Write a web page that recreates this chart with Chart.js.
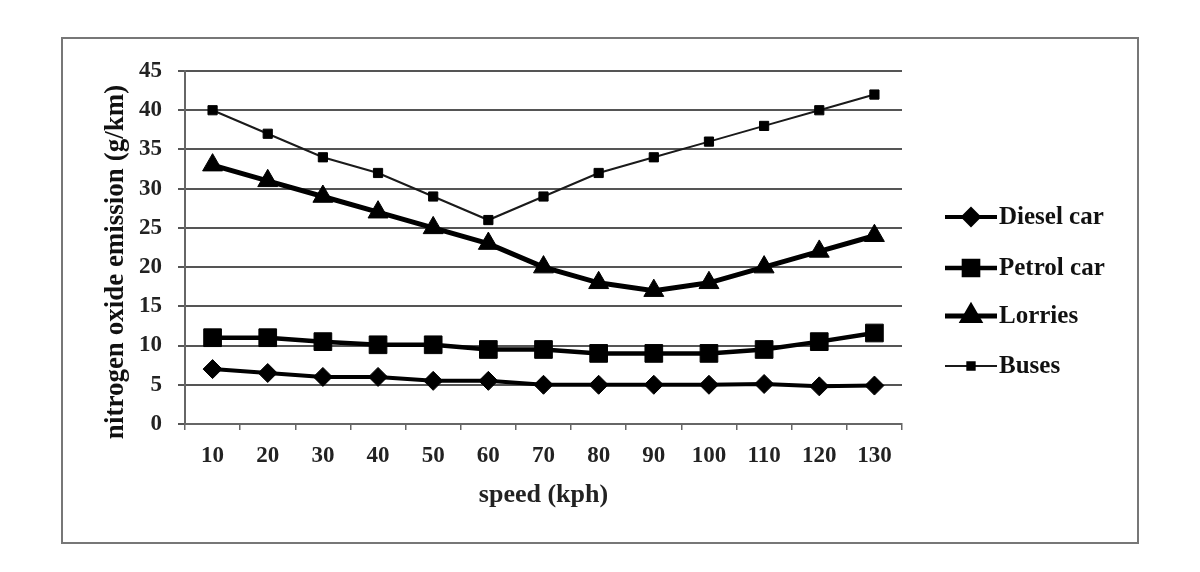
<!DOCTYPE html>
<html>
<head>
<meta charset="utf-8">
<script src="https://cdn.jsdelivr.net/npm/chart.js@4/dist/chart.umd.min.js"></script>
<style>
  html, body { margin: 0; padding: 0; background: #fff; }
  #wrap { width: 1200px; height: 572px; position: relative; }
</style>
</head>
<body>
<div id="wrap"><canvas id="c" width="1200" height="572"></canvas></div>
<script>
const speeds = ['10','20','30','40','50','60','70','80','90','100','110','120','130'];
const seriesNames = ['Diesel car', 'Petrol car', 'Lorries', 'Buses'];
const dieselCar = [7, 6.5, 6, 6, 5.5, 5.5, 5, 5, 5, 5, 5.1, 4.8, 4.9];
const petrolCar = [11, 11, 10.5, 10.1, 10.1, 9.5, 9.5, 9, 9, 9, 9.5, 10.5, 11.6];
const lorries = [33, 31, 29, 27, 25, 23, 20, 18, 17, 18, 20, 22, 24];
const buses = [40, 37, 34, 32, 29, 26, 29, 32, 34, 36, 38, 40, 42];
const yTicks = [0, 5, 10, 15, 20, 25, 30, 35, 40, 45];
const xTitle = 'speed (kph)';
const yTitle = 'nitrogen oxide emission (g/km)';

const FONT = "'Liberation Serif', 'DejaVu Serif', serif";

const frame = {
  id: 'frame',
  beforeDraw(chart) {
    const ctx = chart.ctx;
    ctx.save();
    ctx.fillStyle = '#fff';
    ctx.fillRect(0, 0, chart.width, chart.height);
    ctx.strokeStyle = '#777';
    ctx.lineWidth = 2;
    ctx.strokeRect(62, 38, 1076, 505);
    ctx.restore();
  },
  afterDraw(chart) {
    const ctx = chart.ctx;
    ctx.save();
    ctx.translate(116, 262);
    ctx.rotate(-Math.PI / 2);
    ctx.fillStyle = '#111';
    ctx.font = "bold 27px " + FONT;
    ctx.textAlign = 'center';
    ctx.textBaseline = 'middle';
    ctx.fillText(yTitle, 0, 0);
    ctx.restore();
  }
};

const legendPlugin = {
  id: 'customLegend',
  afterDraw(chart) {
    const ctx = chart.ctx;
    const ys = [217, 268, 316, 366];
    ctx.save();
    chart.data.datasets.forEach((ds, i) => {
      const y = ys[i];
      ctx.strokeStyle = ds.borderColor;
      ctx.lineWidth = ds.borderWidth;
      ctx.beginPath();
      ctx.moveTo(945, y);
      ctx.lineTo(997, y);
      ctx.stroke();
      ctx.fillStyle = ds.pointBackgroundColor;
      ctx.strokeStyle = ds.pointBorderColor;
      Chart.helpers.drawPoint(ctx, {
        pointStyle: ds.pointStyle,
        radius: ds.pointRadius * 0.8,
        rotation: 0,
        borderWidth: 1
      }, 971, y);
      ctx.fillStyle = '#111';
      ctx.font = "bold 25px " + FONT;
      ctx.textBaseline = 'middle';
      ctx.textAlign = 'left';
      ctx.fillText(ds.label, 999, y + 1);
    });
    ctx.restore();
  }
};

function mk(label, data, style, radius, width, color) {
  return {
    label, data,
    borderColor: color,
    backgroundColor: color,
    pointBackgroundColor: '#000',
    pointBorderColor: '#000',
    pointBorderWidth: 1,
    pointStyle: style,
    pointRadius: radius,
    pointHoverRadius: radius,
    borderWidth: width,
    tension: 0,
    fill: false
  };
}

new Chart(document.getElementById('c'), {
  type: 'line',
  data: {
    labels: speeds,
    datasets: [
      mk(seriesNames[0], dieselCar, 'rectRot', 9.5, 4, '#000'),
      mk(seriesNames[1], petrolCar, 'rect', 12.5, 4.5, '#000'),
      mk(seriesNames[2], lorries, 'triangle', 11.5, 5, '#000'),
      mk(seriesNames[3], buses, 'rect', 6.5, 2, '#1a1a1a')
    ]
  },
  options: {
    responsive: false,
    animation: false,
    events: [],
    layout: { padding: { left: 0, right: 298, top: 71, bottom: 0 } },
    plugins: {
      legend: { display: false },
      tooltip: { enabled: false }
    },
    scales: {
      x: {
        offset: true,
        grid: {
          offset: true,
          drawOnChartArea: false,
          drawTicks: true,
          tickLength: 6,
          color: '#666',
          lineWidth: 1.5
        },
        border: { display: true, color: '#666', width: 2 },
        ticks: {
          color: '#222',
          font: { family: FONT, size: 23, weight: 'bold' },
          padding: 12,
          maxRotation: 0,
          autoSkip: false
        },
        title: {
          display: true,
          text: xTitle,
          color: '#222',
          font: { family: FONT, size: 26, weight: 'bold' },
          padding: { top: 0, bottom: 61 }
        },
        afterFit(s) { s.height = 572 - 424; }
      },
      y: {
        min: 0, max: 45,
        afterBuildTicks(s) { s.ticks = yTicks.map(v => ({ value: v })); },
        grid: {
          drawOnChartArea: true,
          drawTicks: true,
          tickLength: 7,
          color: '#555',
          lineWidth: 2
        },
        border: { display: true, color: '#666', width: 2 },
        ticks: {
          color: '#222',
          font: { family: FONT, size: 23, weight: 'bold' },
          padding: 16
        },
        title: { display: false },
        afterFit(s) { s.width = 185; }
      }
    }
  },
  plugins: [frame, legendPlugin]
});
</script>
</body>
</html>
